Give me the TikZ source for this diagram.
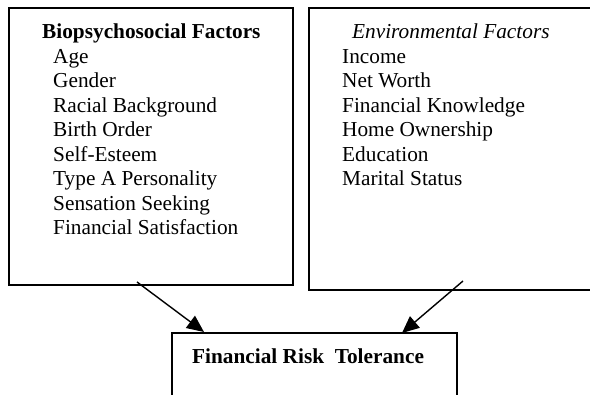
\documentclass[tikz,border=0pt]{standalone}
\usepackage{fontspec}
\setmainfont{Liberation Serif}
\usetikzlibrary{arrows.meta}
\begin{document}
\begin{tikzpicture}[x=1pt,y=-1pt,
  boxstyle/.style={draw, line width=1.4pt, inner sep=0pt, outer sep=0pt, anchor=north west},
  txt/.style={anchor=base west, inner sep=0pt, font=\fontsize{21.3}{24.5}\selectfont},
  arr/.style={line width=1.4pt, -{Triangle[length=17pt,width=15pt]}}]
\useasboundingbox (0,0) rectangle (590,395);
\clip (0,0) rectangle (590,395);
\fill[white] (0,0) rectangle (590,395);
% boxes
\node[boxstyle, minimum width=284pt, minimum height=277pt] (L) at (9,8) {};
\node[boxstyle, minimum width=290pt, minimum height=282pt] (R) at (309,8) {};
\node[boxstyle, minimum width=285pt, minimum height=80pt] (B) at (172,333) {};
% left text
\node[txt, font=\fontsize{21.3}{24.5}\selectfont\bfseries] (lh) at (42,39) {Biopsychosocial Factors};
\foreach \t [count=\i] in {Age,Gender,Racial Background,Birth Order,Self-Esteem,Type A Personality,Sensation Seeking,Financial Satisfaction}
  \node[txt] (l\i) at (53,{39+24.5*\i}) {\t};
% right text
\node[txt, font=\fontsize{21.3}{24.5}\selectfont\itshape] (rh) at (352,39) {Environmental Factors};
\foreach \t [count=\i] in {Income,Net Worth,Financial Knowledge,Home Ownership,Education,Marital Status}
  \node[txt] (r\i) at (342,{39+24.5*\i}) {\t};
% bottom text
\node[txt, font=\fontsize{21.3}{24.5}\selectfont\bfseries] (bh) at (192,364) {Financial Risk\ \ Tolerance};
% arrows
\coordinate (a1) at (137,282);
\coordinate (a2) at (204,332);
\coordinate (b1) at (463,281);
\coordinate (b2) at (402,333);
\draw[arr] (a1) -- (a2);
\draw[arr] (b1) -- (b2);
\end{tikzpicture}
\end{document}
